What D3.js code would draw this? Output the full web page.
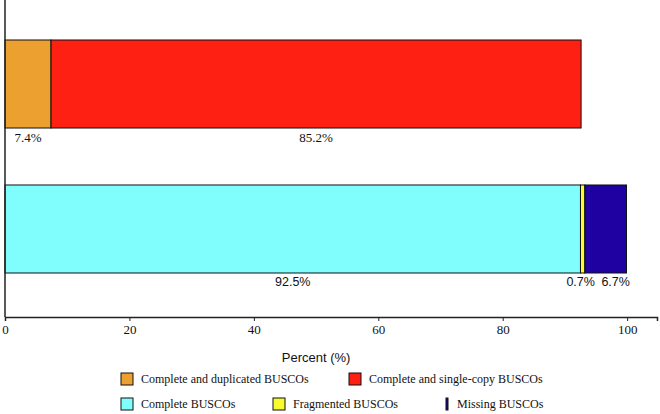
<!DOCTYPE html>
<html lang="en">

<head>
    <meta charset="UTF-8">
    <title>BUSCO stacked bars</title>
    <script src="https://cdn.jsdelivr.net/npm/d3@7/dist/d3.min.js"></script>
    <style>
        body { margin: 0; background: #fff; }
        .serif { font-family: "Liberation Serif", "Times New Roman", serif; }
        .sans { font-family: "Liberation Sans", Arial, sans-serif; }
    </style>
</head>

<body>
    <div id="container"></div>

    <script>
        const width = 660;
        const height = 414;

        // rows of the chart (not labelled in the figure)
        const rows = ['duplication', 'completeness'];

        const dupNames = ['Complete and duplicated BUSCOs', 'Complete and single-copy BUSCOs'];
        const dupValues = [7.4, 85.2];
        const dupColors = ['#eba02f', '#fe2012'];

        const compNames = ['Complete BUSCOs', 'Fragmented BUSCOs', 'Missing BUSCOs'];
        const compValues = [92.5, 0.7, 6.7];
        const compColors = ['#80fefe', '#fafa30', '#1f00a0'];

        const xTicks = [0, 20, 40, 60, 80, 100];

        const x = d3.scaleLinear().domain([0, 104.8]).range([5, 657]);
        const y = d3.scaleBand().domain(rows).range([11, 302]).paddingInner(0.393).paddingOuter(0.2);
        const axisY = 317;

        function stack(names, values, colors) {
            let acc = 0;
            return names.map((n, i) => {
                const d = { name: n, value: values[i], color: colors[i], x0: acc, x1: acc + values[i] };
                acc += values[i];
                return d;
            });
        }

        const svg = d3.select('#container').append('svg')
            .attr('width', width)
            .attr('height', height)
            .style('display', 'block');

        const chart = svg.append('g');

        const rowData = [
            { row: rows[0], segs: stack(dupNames, dupValues, dupColors), font: 'serif', size: 13, dx: [0, 0] },
            { row: rows[1], segs: stack(compNames, compValues, compColors), font: 'sans', size: 12.5, dx: [0, -2, 10] }
        ];

        rowData.forEach(r => {
            const g = chart.append('g');
            g.selectAll('rect').data(r.segs).join('rect')
                .attr('x', d => x(d.x0))
                .attr('y', y(r.row))
                .attr('width', d => x(d.x1) - x(d.x0))
                .attr('height', y.bandwidth())
                .attr('fill', d => d.color)
                .attr('stroke', '#111')
                .attr('stroke-width', 1);

            g.selectAll('text').data(r.segs).join('text')
                .attr('class', r.font)
                .attr('x', (d, i) => (x(d.x0) + x(d.x1)) / 2 + r.dx[i])
                .attr('y', y(r.row) + y.bandwidth() + 9)
                .attr('dy', '0.35em')
                .attr('text-anchor', 'middle')
                .attr('font-size', r.size)
                .attr('fill', '#111')
                .text(d => d.value.toFixed(1) + '%');
        });

        // x axis
        const gx = chart.append('g')
            .attr('transform', `translate(0, ${axisY})`)
            .call(d3.axisBottom(x).tickValues(xTicks).tickSizeOuter(0).tickSize(4).tickPadding(4));
        gx.attr('font-family', null);
        gx.select('.domain').attr('stroke', '#222').attr('stroke-width', 1.5);
        gx.selectAll('.tick line').attr('stroke', '#222');
        gx.selectAll('.tick text')
            .attr('class', 'serif')
            .attr('font-size', 13)
            .attr('fill', '#111');

        // y axis line
        chart.append('line')
            .attr('x1', x(0)).attr('x2', x(0))
            .attr('y1', 0).attr('y2', axisY)
            .attr('stroke', '#222')
            .attr('stroke-width', 1.5);

        chart.append('text')
            .attr('class', 'sans')
            .attr('x', x(50))
            .attr('y', 357)
            .attr('dy', '0.35em')
            .attr('text-anchor', 'middle')
            .attr('font-size', 13)
            .attr('fill', '#111')
            .text('Percent (%)');

        // legend
        const legendItems = [
            { name: dupNames[0], color: dupColors[0], x: 121, y: 379, w: 12 },
            { name: dupNames[1], color: dupColors[1], x: 349, y: 379, w: 12 },
            { name: compNames[0], color: compColors[0], x: 121, y: 404, w: 12 },
            { name: compNames[1], color: compColors[1], x: 273, y: 404, w: 12 },
            { name: compNames[2], color: compColors[2], x: 446, y: 404, w: 2 }
        ];

        const legend = svg.append('g').selectAll('g').data(legendItems).join('g')
            .attr('transform', d => `translate(${d.x}, ${d.y})`);

        legend.append('rect')
            .attr('x', 0)
            .attr('y', -6)
            .attr('width', d => d.w)
            .attr('height', 12)
            .attr('fill', d => d.color)
            .attr('stroke', '#111')
            .attr('stroke-width', 1);

        legend.append('text')
            .attr('class', 'serif')
            .attr('x', d => d.w + (d.w > 5 ? 8 : 9))
            .attr('dy', '0.35em')
            .attr('font-size', 12)
            .attr('fill', '#111')
            .text(d => d.name);
    </script>
</body>

</html>
